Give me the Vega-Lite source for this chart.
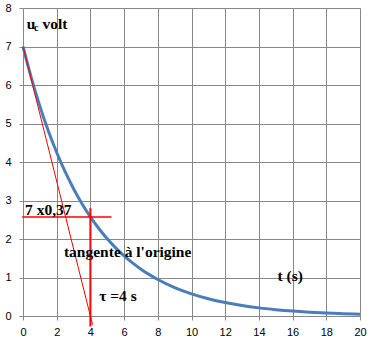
{
  "$schema": "https://vega.github.io/schema/vega-lite/v6.json",
  "width": 337,
  "height": 308,
  "autosize": {"type": "none"},
  "padding": {"left": 23, "top": 8, "right": 15, "bottom": 25},
  "background": "white",
  "config": {
    "view": {"stroke": null},
    "axis": {
      "grid": true,
      "gridColor": "#878787",
      "gridOpacity": 1,
      "gridWidth": 1,
      "domainColor": "#878787",
      "tickColor": "#878787",
      "tickSize": 4,
      "labelFont": "Liberation Sans",
      "labelFontSize": 11,
      "labelColor": "#000000",
      "labelOverlap": false,
      "labelFlush": false,
      "labelBound": false,
      "title": null
    }
  },
  "datasets": {
    "curve": [
      {"t": 0, "u": 7}, {"t": 0.5, "u": 6.178}, {"t": 1, "u": 5.452}, {"t": 1.5, "u": 4.811},
      {"t": 2, "u": 4.246}, {"t": 2.5, "u": 3.747}, {"t": 3, "u": 3.307}, {"t": 3.5, "u": 2.918},
      {"t": 4, "u": 2.575}, {"t": 4.5, "u": 2.273}, {"t": 5, "u": 2.006}, {"t": 5.5, "u": 1.770},
      {"t": 6, "u": 1.562}, {"t": 6.5, "u": 1.378}, {"t": 7, "u": 1.217}, {"t": 7.5, "u": 1.074},
      {"t": 8, "u": 0.947}, {"t": 9, "u": 0.738}, {"t": 10, "u": 0.575}, {"t": 11, "u": 0.448},
      {"t": 12, "u": 0.349}, {"t": 13, "u": 0.271}, {"t": 14, "u": 0.211}, {"t": 15, "u": 0.165},
      {"t": 16, "u": 0.128}, {"t": 17, "u": 0.100}, {"t": 18, "u": 0.078}, {"t": 19, "u": 0.061},
      {"t": 20, "u": 0.047}
    ],
    "tangent": [{"t": 0, "u": 7, "t2": 4.13, "u2": -0.23}],
    "hline": [{"t": -0.05, "u": 2.57, "t2": 5.25, "u2": 2.57}],
    "vline": [{"t": 4, "u": -0.27, "t2": 4, "u2": 2.8}],
    "bigText": [
      {"t": 0.22, "u": 7.45, "label": "u"},
      {"t": 1.15, "u": 7.45, "label": "volt"},
      {"t": 0.12, "u": 2.62, "label": "7 x0,37"},
      {"t": 2.43, "u": 1.52, "label": "tangente à l'origine"},
      {"t": 4.52, "u": 0.38, "label": "τ =4 s"},
      {"t": 15.1, "u": 0.9, "label": "t (s)"}
    ],
    "subText": [
      {"t": 0.66, "u": 7.40, "label": "c"}
    ]
  },
  "encoding": {
    "x": {"field": "t", "type": "quantitative", "scale": {"domain": [0, 20], "nice": false, "zero": false},
          "axis": {"values": [0, 2, 4, 6, 8, 10, 12, 14, 16, 18, 20], "labelPadding": 6}},
    "y": {"field": "u", "type": "quantitative", "scale": {"domain": [0, 8], "nice": false, "zero": false},
          "axis": {"values": [0, 1, 2, 3, 4, 5, 6, 7, 8], "labelPadding": 8}}
  },
  "layer": [
    {
      "data": {"name": "curve"},
      "mark": {"type": "line", "color": "#4a7ebb", "strokeWidth": 3, "interpolate": "monotone"}
    },
    {
      "data": {"name": "tangent"},
      "mark": {"type": "rule", "color": "#ff0000", "strokeWidth": 1},
      "encoding": {"x2": {"field": "t2"}, "y2": {"field": "u2"}}
    },
    {
      "data": {"name": "hline"},
      "mark": {"type": "rule", "color": "#ff0000", "strokeWidth": 1.5},
      "encoding": {"x2": {"field": "t2"}, "y2": {"field": "u2"}}
    },
    {
      "data": {"name": "vline"},
      "mark": {"type": "rule", "color": "#ff0000", "strokeWidth": 2},
      "encoding": {"x2": {"field": "t2"}, "y2": {"field": "u2"}}
    },
    {
      "data": {"name": "bigText"},
      "mark": {"type": "text", "font": "Liberation Serif", "fontWeight": "bold", "fontSize": 15.5, "align": "left", "baseline": "alphabetic", "color": "#000000"},
      "encoding": {"text": {"field": "label"}}
    },
    {
      "data": {"name": "subText"},
      "mark": {"type": "text", "font": "Liberation Serif", "fontWeight": "bold", "fontSize": 10, "align": "left", "baseline": "alphabetic", "color": "#000000"},
      "encoding": {"text": {"field": "label"}}
    }
  ]
}
